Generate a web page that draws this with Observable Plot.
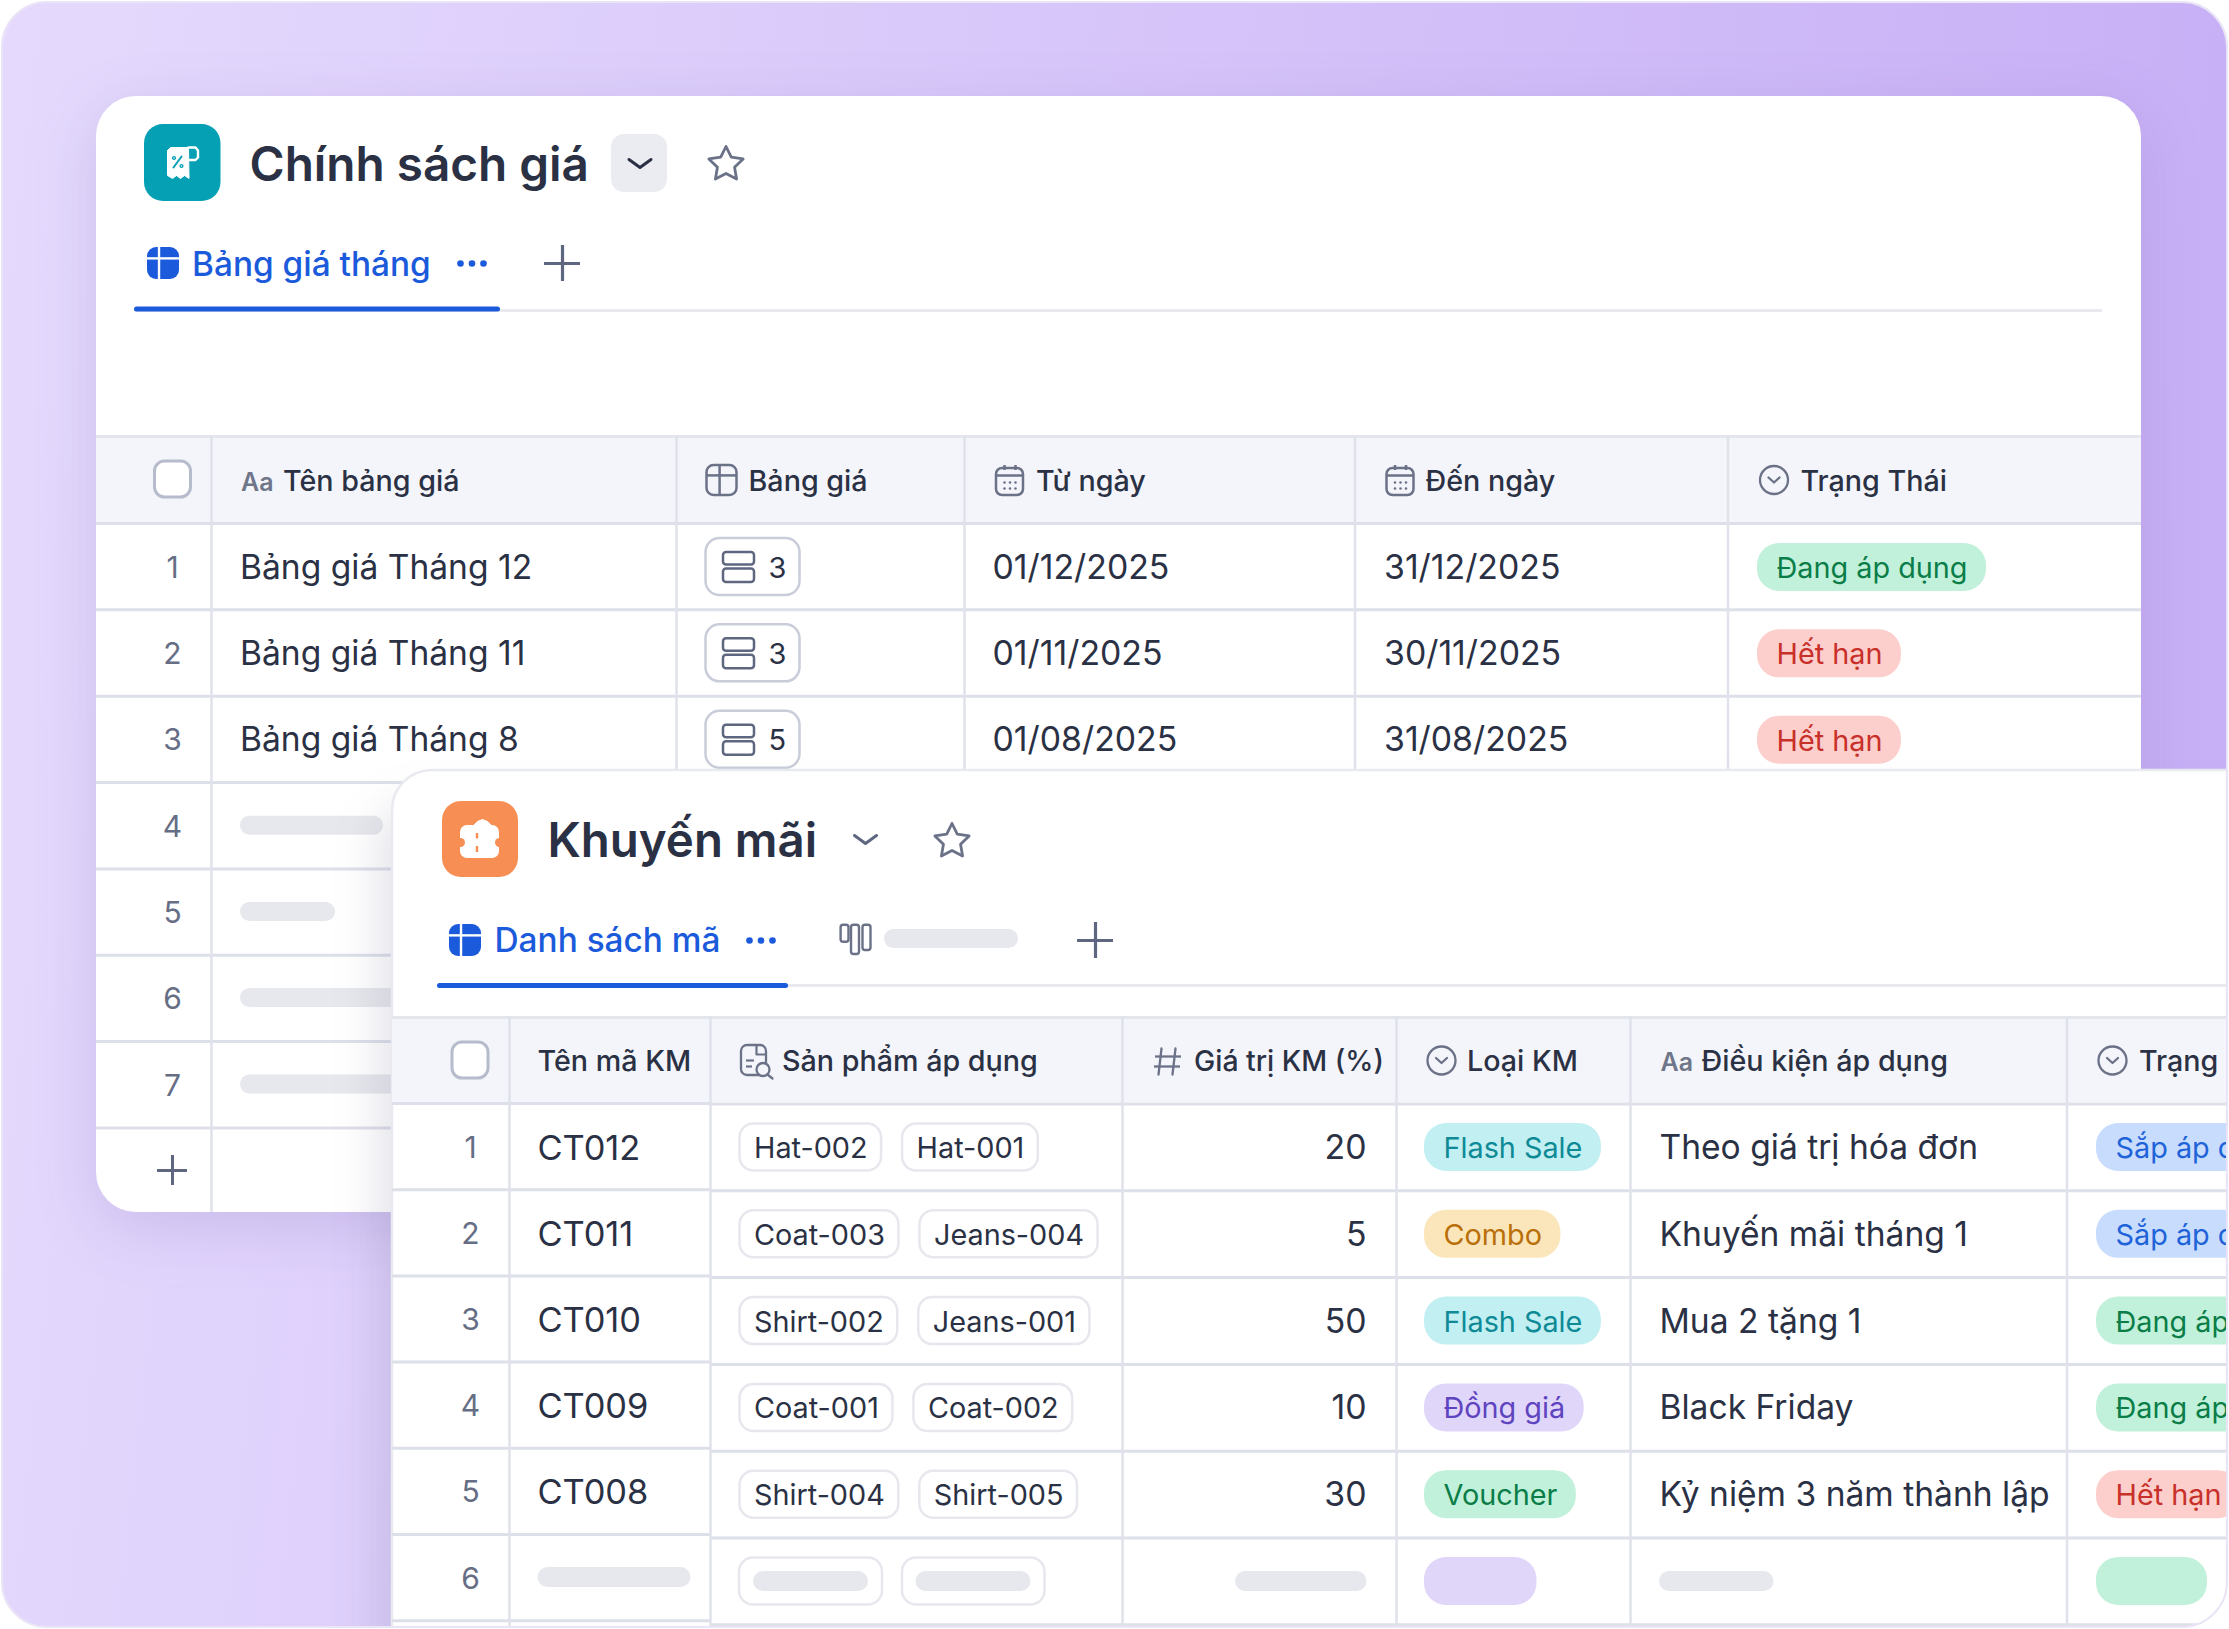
<!DOCTYPE html>
<html><head><meta charset="utf-8">
<script src="https://cdn.jsdelivr.net/npm/d3@7"></script>
<script src="https://cdn.jsdelivr.net/npm/@observablehq/plot@0.6"></script>
<style>html,body{margin:0;padding:0;background:#fff}svg{display:block}</style>
</head><body><div id="app"></div>
<script>
// ---------- DATA ----------
const priceTitle = "Chính sách giá";
const priceTab = "Bảng giá tháng";
const priceHeaders = ["Tên bảng giá", "Bảng giá", "Từ ngày", "Đến ngày", "Trạng Thái"];
const priceNames = ["Bảng giá Tháng 12", "Bảng giá Tháng 11", "Bảng giá Tháng 8"];
const priceCounts = ["3", "3", "5"];
const priceFrom = ["01/12/2025", "01/11/2025", "01/08/2025"];
const priceTo = ["31/12/2025", "30/11/2025", "31/08/2025"];
const priceStatus = ["Đang áp dụng", "Hết hạn", "Hết hạn"];
const priceRowNumbers = ["1", "2", "3", "4", "5", "6", "7"];

const promoTitle = "Khuyến mãi";
const promoTab = "Danh sách mã";
const promoHeaders = ["Tên mã KM", "Sản phẩm áp dụng", "Giá trị KM (%)", "Loại KM", "Điều kiện áp dụng", "Trạng Thái"];
const promoCodes = ["CT012", "CT011", "CT010", "CT009", "CT008"];
const promoProductsA = ["Hat-002", "Coat-003", "Shirt-002", "Coat-001", "Shirt-004"];
const promoProductsB = ["Hat-001", "Jeans-004", "Jeans-001", "Coat-002", "Shirt-005"];
const promoValues = [20, 5, 50, 10, 30];
const promoTypes = ["Flash Sale", "Combo", "Flash Sale", "Đồng giá", "Voucher"];
const promoConditions = ["Theo giá trị hóa đơn", "Khuyến mãi tháng 1", "Mua 2 tặng 1", "Black Friday", "Kỷ niệm 3 năm thành lập"];
const promoStatus = ["Sắp áp dụng", "Sắp áp dụng", "Đang áp dụng", "Đang áp dụng", "Hết hạn"];
const promoRowNumbers = ["1", "2", "3", "4", "5", "6"];

// ---------- STYLE ----------
const F = "Inter";
const INK = "#2b3144", MUTED = "#666e85", LINE = "#dfe2ea", HEAD = "#f4f5fa", SKEL = "#e7e8ed", BLUE = "#1b5bdb";
const PILL = {
  "Đang áp dụng": ["#c1f1da", "#0a7d48"], "Hết hạn": ["#fccfcc", "#c8302a"], "Sắp áp dụng": ["#c8dcfd", "#1f63d9"],
  "Flash Sale": ["#c2eff2", "#0e8a96"], "Combo": ["#fbe6bb", "#b96f0a"], "Đồng giá": ["#e0d6fa", "#5f44bf"], "Voucher": ["#c1f1da", "#0a7d48"]
};
const BODY = 33.6, DIGITS = 33.8, HDR = 28.7, PILLFS = 28.8, CHIPFS = 28.8, TAB = 33.4, TITLE = 47.7;

// ---------- HELPERS ----------
const ctx = document.createElement("canvas").getContext("2d");
const measure = (s, size, w = 400) => { ctx.font = `${w} ${size}px Inter`; return ctx.measureText(s).width; };
const marks = [];
const add = m => marks.push(m);
const box = (x1, y1, x2, y2, style) => add(Plot.rect([{x1, y1, x2, y2}], {x1: "x1", y1: "y1", x2: "x2", y2: "y2", ...style}));
const boxes = (list, style) => add(Plot.rect(list, {x1: "x1", y1: "y1", x2: "x2", y2: "y2", ...style}));
const label = (t, x, y, size, fill, extra = {}) => add(Plot.text([{t, x, y}], {x: "x", y: "y", text: "t", fontFamily: F, fontSize: size, fill, textAnchor: "start", lineAnchor: "bottom", ...extra}));
const poly = (pts, style) => add(Plot.line(pts, {x: d => d[0], y: d => d[1], strokeLinecap: "round", strokeLinejoin: "round", ...style}));
const hLine = (y, x1, x2, stroke, w) => add(Plot.ruleY([y], {x1, x2, stroke, strokeWidth: w}));
const vLine = (x, y1, y2, stroke, w) => add(Plot.ruleX([x], {y1, y2, stroke, strokeWidth: w}));
const ring = (x, y, r, stroke, w, fill = "none") => add(Plot.dot([{x, y}], {x: "x", y: "y", r, stroke, strokeWidth: w, fill}));

const chevron = (cx, cy, hw, h, stroke, w) => poly([[cx - hw, cy - h / 2], [cx, cy + h / 2], [cx + hw, cy - h / 2]], {stroke, strokeWidth: w});
const star = (cx, cy, R) => {
  const pts = d3.range(11).map(i => {
    const a = -Math.PI / 2 + i * Math.PI / 5, r = i % 2 ? R * 0.5 : R;
    return [cx + r * Math.cos(a), cy + r * Math.sin(a)];
  });
  poly(pts, {stroke: "#6b7288", strokeWidth: 2.8});
};
const plus = (cx, cy, a, w) => { hLine(cy, cx - a, cx + a, "#5f6780", w); vLine(cx, cy - a, cy + a, "#5f6780", w); };
const tabIcon = (x, y, s) => {
  box(x, y, x + s, y + s, {fill: BLUE, rx: 9});
  hLine(y + s * 0.34, x, x + s, "#fff", 2.4);
  vLine(x + s * 0.36, y, y + s, "#fff", 2.4);
};
const tableIcon = (x, y, s) => {
  box(x, y, x + s, y + s, {stroke: "#6b7288", strokeWidth: 2.5, fill: "none", rx: 7});
  hLine(y + s * 0.33, x, x + s, "#6b7288", 2.5);
  vLine(x + s * 0.42, y, y + s, "#6b7288", 2.5);
};
const calIcon = (x, y) => {
  box(x, y + 3, x + 27, y + 30, {stroke: "#6b7288", strokeWidth: 2.5, fill: "none", rx: 6});
  hLine(y + 10, x, x + 27, "#6b7288", 2.5);
  vLine(x + 8, y, y + 5, "#6b7288", 2.5); vLine(x + 19, y, y + 5, "#6b7288", 2.5);
  add(Plot.dot(d3.cross([x + 8, x + 13.5, x + 19], [y + 17, y + 23]), {x: d => d[0], y: d => d[1], r: 1.3, fill: "#6b7288"}));
};
const selIcon = (cx, cy) => { ring(cx, cy, 14, "#6b7288", 2.3); chevron(cx, cy, 5.5, 5, "#6b7288", 2.3); };
const aa = (x, y) => label("Aa", x, y, 25, "#6f7689", {fontWeight: 600});
const checkbox = (cx, cy) => box(cx - 18, cy - 18, cx + 18, cy + 18, {fill: "#fff", stroke: "#b6bccc", strokeWidth: 3, rx: 10});
const pill = (text, x, cy, h = 48, fs = PILLFS, pad = 19) => {
  const w = measure(text, fs) + 2 * pad, [bg, fg] = PILL[text];
  box(x, cy - h / 2, x + w, cy + h / 2, {fill: bg, rx: 22});
  label(text, x + pad, cy + 10.5, fs, fg);
};
const chip = (text, x, cy) => {
  const w = measure(text, CHIPFS) + 28;
  box(x, cy - 23.5, x + w, cy + 23.5, {fill: "#fff", stroke: "#e6e8ee", strokeWidth: 2.5, rx: 14});
  label(text, x + 14, cy + 10.5, CHIPFS, INK);
  return x + w + 21;
};

// ---------- BACKGROUND ----------
const defs = () => {
  const d = d3.create("svg:defs");
  const g = d.append("linearGradient").attr("id", "bg").attr("x1", 0).attr("y1", 0).attr("x2", 1).attr("y2", 0.08);
  g.append("stop").attr("offset", 0).attr("stop-color", "#e5dafd");
  g.append("stop").attr("offset", 1).attr("stop-color", "#c8b0f6");
  return d.node();
};
add(defs);
box(2, 2, 2227, 1627, {fill: "url(#bg)"});

// ---------- CARD 1 ----------
box(96, 96, 2141, 1212, {fill: "#fff", rx: 40, imageFilter: "drop-shadow(0 16px 30px rgba(90,70,150,.16))"});
box(144, 124, 220.5, 201, {fill: "#05a0b4", rx: 19});
// receipt-roll logo
poly([[167, 150], [170, 147], [188, 147], [188.5, 178], [184, 175], [180, 178], [176, 175], [172, 178], [167, 175], [167, 150]], {fill: "#fff", stroke: "#fff", strokeWidth: 1});
poly([[188, 147], [195, 147], [197.5, 150], [197.5, 157], [195, 159.5], [189, 159.5]], {stroke: "#fff", strokeWidth: 2.4});
poly([[173, 167], [181, 156]], {stroke: "#05a0b4", strokeWidth: 2});
ring(173.5, 157.5, 1.4, "#05a0b4", 1.4); ring(181, 165.5, 1.4, "#05a0b4", 1.4);
label(priceTitle, 249, 180, TITLE, INK, {fontWeight: 600});
box(611, 134, 667, 192, {fill: "#ebecf1", rx: 13});
chevron(639.5, 163, 11, 8, "#2b3144", 3);
star(725.5, 164, 18);
tabIcon(147, 247, 32);
label(priceTab, 191.5, 275, TAB, BLUE, {fontWeight: 500});
add(Plot.dot([0, 1, 2], {x: i => 460 + i * 11.5, y: () => 263, r: 3.3, fill: BLUE}));
plus(562, 263, 18, 3.2);
hLine(310, 134, 2102, "#e9eaef", 3);
box(134, 306.5, 500, 311.5, {fill: BLUE, rx: 2.5});

const c1 = [96, 211, 676, 964, 1354.5, 1727.5, 2141];
const c1RowH = 86.35, c1Top = 523;
const c1Y = i => c1Top + c1RowH * i;
box(96, 436, 2141, 522, {fill: HEAD});
hLine(436, 96, 2141, "#e4e6ed", 3);
d3.range(0, 8).forEach(i => hLine(c1Y(i), 96, 2141, "#dde0e9", 3));
c1.slice(1, 6).forEach(x => vLine(x, 436, 770, LINE, 2.5));
vLine(211, 770, 1212, LINE, 2.5);
checkbox(172.5, 479);
aa(240.5, 490); label(priceHeaders[0], 282.5, 490, HDR, INK, {fontWeight: 500});
tableIcon(706.5, 465, 30); label(priceHeaders[1], 748, 490, HDR, INK, {fontWeight: 500});
calIcon(996, 465); label(priceHeaders[2], 1035.5, 490, HDR, INK, {fontWeight: 500});
calIcon(1386.5, 465); label(priceHeaders[3], 1425, 490, HDR, INK, {fontWeight: 500});
selIcon(1773.5, 479.5); label(priceHeaders[4], 1800, 490, HDR, INK, {fontWeight: 500});
priceRowNumbers.forEach((n, i) => label(n, 172, c1Y(i) + 43 + 11, 30, MUTED, {textAnchor: "middle"}));
priceNames.forEach((t, i) => {
  const mid = c1Y(i) + 43.5;
  label(t, 239.5, mid + 11.5, BODY, INK);
  box(705.5, mid - 28.5, 799.5, mid + 28.5, {fill: "#fff", stroke: "#c9cdd9", strokeWidth: 2.5, rx: 14});
  box(723, mid - 14.5, 754, mid - 2, {stroke: "#5f6780", strokeWidth: 2.5, fill: "none", rx: 3});
  box(723, mid + 2, 754, mid + 15.5, {stroke: "#5f6780", strokeWidth: 2.5, fill: "none", rx: 3});
  label(priceCounts[i], 768, mid + 10.5, 29, INK);
  label(priceFrom[i], 992, mid + 11.5, DIGITS, INK);
  label(priceTo[i], 1383.5, mid + 11.5, DIGITS, INK);
  pill(priceStatus[i], 1757, mid + 0.5);
});
boxes([[815.7, 383], [902, 335], [988, 520], [1074.5, 520]].map(([y, x2]) => ({x1: 240, y1: y, x2, y2: y + 19})), {fill: SKEL, rx: 9.5});
plus(172, 1170, 15, 3);

// ---------- CARD 2 ----------
box(392, 770, 2300, 1700, {fill: "#fff", stroke: "#e8eaef", strokeWidth: 2.5, rx: 40, imageFilter: "drop-shadow(-14px 34px 22px rgba(70,70,110,.14))"});
box(442, 801, 518, 877, {fill: "#f78f55", rx: 19});
// ticket logo
poly([[473, 825], [477, 821], [482, 819], [487, 821], [491, 825], [473, 825]], {fill: "#fff", stroke: "#fff", strokeWidth: 1});
box(460, 825, 499, 858, {fill: "#fff", rx: 7});
ring(460, 842, 4.5, "none", 0, "#f78f55"); ring(499, 842, 4.5, "none", 0, "#f78f55");
vLine(476.5, 833, 838.5, "#f78f55", 2.4); vLine(476.5, 846, 852, "#f78f55", 2.4);
label(promoTitle, 547, 856.5, TITLE - 0.3, INK, {fontWeight: 600});
chevron(865, 839, 11, 8, "#5f6780", 3);
star(951.5, 841, 18);
tabIcon(449, 924, 32);
label(promoTab, 494, 951.5, TAB, BLUE, {fontWeight: 500});
add(Plot.dot([0, 1, 2], {x: i => 749 + i * 11.5, y: () => 940, r: 3.3, fill: BLUE}));
[[840.6, 848.5, 941.7], [851, 859, 954], [862.5, 870.5, 950]].forEach(([a, b, e]) => box(a, 924.7, b, e, {stroke: "#6b7288", strokeWidth: 2.4, fill: "none", rx: 2.5}));
box(884, 929, 1018, 948, {fill: SKEL, rx: 9.5});
plus(1095, 940, 18, 3.2);
hLine(985, 437, 2227, "#e9eaef", 3);
box(437, 983, 788, 988, {fill: BLUE, rx: 2.5});

const c2 = [392, 509, 710, 1122, 1396, 1630, 2066.5];
const c2Top = 1103;
const stepL = 86.2, stepR = 86.8;
box(392, 1017, 2230, 1102, {fill: HEAD});
hLine(1017, 392, 2230, "#e4e6ed", 3);
d3.range(0, 7).forEach(i => {
  hLine(c2Top + stepL * i, 392, 710, "#dde0e9", 3);
  hLine(c2Top + 0.5 + stepR * i, 710, 2230, "#dde0e9", 3);
});
c2.slice(1).forEach(x => vLine(x, 1017, 1629, LINE, 2.5));
checkbox(470, 1060);
label(promoHeaders[0], 537, 1070, HDR, INK, {fontWeight: 500});
// document-search icon
box(741, 1045, 766, 1075, {stroke: "#6b7288", strokeWidth: 2.3, fill: "none", rx: 6});
hLine(1060, 746, 754, "#6b7288", 2.2); hLine(1066, 746, 752, "#6b7288", 2.2);
poly([[756, 1046], [756, 1054], [764, 1054]], {stroke: "#6b7288", strokeWidth: 2.2});
ring(762.5, 1069, 6.5, "#6b7288", 2.3, "#f4f5fa");
poly([[767, 1074], [772, 1078]], {stroke: "#6b7288", strokeWidth: 2.3});
label(promoHeaders[1], 781.5, 1070, HDR, INK, {fontWeight: 500});
// hash icon
poly([[1161, 1048], [1158, 1074]], {stroke: "#6b7288", strokeWidth: 2.3});
poly([[1175, 1048], [1172, 1074]], {stroke: "#6b7288", strokeWidth: 2.3});
hLine(1056, 1155, 1181, "#6b7288", 2.3); hLine(1066, 1154, 1180, "#6b7288", 2.3);
label(promoHeaders[2], 1193.5, 1070, HDR - 0.3, INK, {fontWeight: 500});
selIcon(1441, 1060); label(promoHeaders[3], 1466.5, 1070, HDR, INK, {fontWeight: 500});
aa(1660, 1070); label(promoHeaders[4], 1701, 1070, HDR, INK, {fontWeight: 500});
selIcon(2112, 1060); label(promoHeaders[5], 2138.5, 1070, HDR, INK, {fontWeight: 500});

promoRowNumbers.forEach((n, i) => label(n, 470, c2Top + stepL * i + 43 + 11, 30, MUTED, {textAnchor: "middle"}));
promoCodes.forEach((t, i) => {
  const midL = c2Top + stepL * i + 43, mid = c2Top + stepR * i + 44;
  label(t, 537, midL + 13, 34.4, INK);
  const next = chip(promoProductsA[i], 739.5, mid);
  chip(promoProductsB[i], next, mid);
  label(String(promoValues[i]), 1366, mid + 11.5, DIGITS, INK, {textAnchor: "end"});
  pill(promoTypes[i], 1424, mid);
  label(promoConditions[i], 1659, mid + 11.5, BODY, INK);
  pill(promoStatus[i], 2096, mid);
});
// skeleton row 6
{
  const mid = c2Top + stepR * 5 + 44, midL = c2Top + stepL * 5 + 43;
  box(537.5, midL - 10, 690.5, midL + 10, {fill: SKEL, rx: 10});
  box(739, mid - 23.5, 882, mid + 23.5, {fill: "#fff", stroke: "#e6e8ee", strokeWidth: 2.5, rx: 14});
  box(902, mid - 23.5, 1044.5, mid + 23.5, {fill: "#fff", stroke: "#e6e8ee", strokeWidth: 2.5, rx: 14});
  box(753, mid - 10, 868, mid + 10, {fill: SKEL, rx: 10});
  box(915.5, mid - 10, 1030.5, mid + 10, {fill: SKEL, rx: 10});
  box(1235, mid - 10, 1366.5, mid + 10, {fill: SKEL, rx: 10});
  box(1424, mid - 24, 1536.5, mid + 24, {fill: PILL["Đồng giá"][0], rx: 22});
  box(1659, mid - 10, 1773.5, mid + 10, {fill: SKEL, rx: 10});
  box(2096, mid - 24, 2207, mid + 24, {fill: PILL["Voucher"][0], rx: 22});
}

// ---------- OUTER MASK (rounded frame) ----------
box(-18, -18, 2247, 1647, {fill: "none", stroke: "#fff", strokeWidth: 40, rx: 65});
box(2, 2, 2227, 1627, {fill: "none", stroke: "#e9e4f6", strokeWidth: 2, rx: 45});

const chart = Plot.plot({
  width: 2229, height: 1629, margin: 0,
  x: {domain: [0, 2229], range: [0, 2229], axis: null},
  y: {domain: [0, 1629], range: [0, 1629], axis: null},
  color: {type: "identity"},
  style: {background: "transparent"},
  marks
});
document.getElementById("app").appendChild(chart);
</script>
</body></html>
